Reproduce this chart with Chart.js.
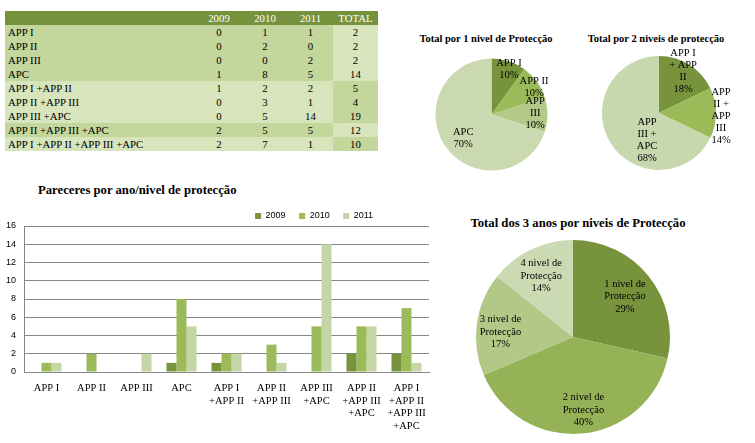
<!DOCTYPE html>
<html>

<head>
    <script src="https://cdn.jsdelivr.net/npm/chart.js"></script>
    <style>
        html,
        body {
            margin: 0px;
            width: 755px;
            height: 443px;
            overflow: hidden;
            background: #fff;
            font-family: "Liberation Serif", serif;
        }

        canvas {
            position: absolute;
            left: 0px;
            top: 0px;
        }

        .title {
            position: absolute;
            font: bold 10.5px "Liberation Serif", serif;
            color: #000;
            white-space: nowrap;
            transform: translate(-50%, -50%);
        }

        .title.big {
            font-size: 12.7px;
        }

        .title.left {
            transform: translate(0, -50%);
        }

        #tbl {
            position: absolute;
            left: 5px;
            top: 11px;
            width: 373px;
            border-collapse: collapse;
            table-layout: fixed;
            font: 10.8px "Liberation Serif", serif;
        }

        #tbl td {
            padding: 0px;
            height: 14px;
            line-height: 14px;
            text-align: center;
            color: #000;
            white-space: nowrap;
        }

        #tbl td.name {
            text-align: left;
            padding-left: 3px;
        }

        #tbl tr.head td {
            background: #76923C;
            color: #fff;
        }

        #tbl tr.a td { background: #C3D69B; }
        #tbl tr.a td.tot { background: #D7E4BC; }
        #tbl tr.b td { background: #D7E4BC; }
        #tbl tr.b td.tot { background: #C3D69B; }
    </style>
</head>

<body>
    <table id="tbl">
        <colgroup>
            <col style="width:191px">
            <col style="width:46px">
            <col style="width:46px">
            <col style="width:45px">
            <col style="width:45px">
        </colgroup>
        <tbody id="tblBody"></tbody>
    </table>

    <div class="title" style="left:486px; top:38px">Total por 1 nivel de Protecção</div>
    <div class="title" style="left:656px; top:38px">Total por 2 niveis de protecção</div>
    <div class="title big left" style="left:38px; top:190px">Pareceres por ano/nivel de protecção</div>
    <div class="title big" style="left:578px; top:223px">Total dos 3 anos por niveis de Protecção</div>

    <canvas id="barChart" width="755" height="443"></canvas>
    <canvas id="pie1" width="755" height="443"></canvas>
    <canvas id="pie2" width="755" height="443"></canvas>
    <canvas id="pie3" width="755" height="443"></canvas>

    <script>
        // table / bar chart data
        const categories = ['APP I', 'APP II', 'APP III', 'APC', 'APP I +APP II', 'APP II +APP III',
            'APP III +APC', 'APP II +APP III +APC', 'APP I +APP II +APP III +APC'];
        const years = ['2009', '2010', '2011'];
        const values2009 = [0, 0, 0, 1, 1, 0, 0, 2, 2];
        const values2010 = [1, 2, 0, 8, 2, 3, 5, 5, 7];
        const values2011 = [1, 0, 2, 5, 2, 1, 14, 5, 1];
        const totals = [2, 2, 2, 14, 5, 4, 19, 12, 10];

        // pies
        const pie1Labels = ['APP I', 'APP II', 'APP\nIII', 'APC'];
        const pie1Values = [2, 2, 2, 14];
        const pie2Labels = ['APP I\n+ APP\nII', 'APP\nII +\nAPP\nIII', 'APP\nIII +\nAPC'];
        const pie2Values = [5, 4, 19];
        const levelLabels = ['1 nivel de\nProtecção', '2 nivel de\nProtecção', '3 nivel de\nProtecção', '4 nivel de\nProtecção'];
        const levelValues = [20, 28, 12, 10];

        const yMin = 0, yMax = 16, yStep = 2;

        const dark = '#77933C';
        const mid = '#9BBB59';
        const light = '#C4D6A6';
        const serif = 'Liberation Serif';
        const sans = 'Liberation Sans';

        // table
        let rows = '<tr class="head"><td></td>' + years.map(y => '<td>' + y + '</td>').join('') + '<td>TOTAL</td></tr>';
        categories.forEach((c, i) => {
            const band = c.split('+').length % 2 ? 'a' : 'b';
            rows += '<tr class="' + band + '"><td class="name">' + c + '</td><td>' + values2009[i] + '</td><td>' +
                values2010[i] + '</td><td>' + values2011[i] + '</td><td class="tot">' + totals[i] + '</td></tr>';
        });
        document.getElementById('tblBody').innerHTML = rows;

        // labels inside the pie slices
        const sliceLabels = {
            id: 'sliceLabels',
            afterDatasetsDraw(chart, args, opts) {
                const ctx = chart.ctx;
                const meta = chart.getDatasetMeta(0);
                const data = chart.data.datasets[0].data;
                const sum = data.reduce((a, b) => a + b, 0);
                ctx.save();
                ctx.font = '10.5px "' + serif + '", serif';
                ctx.fillStyle = '#000';
                ctx.textAlign = 'center';
                ctx.textBaseline = 'middle';
                meta.data.forEach((arc, i) => {
                    const p = arc.getProps(['x', 'y', 'startAngle', 'endAngle', 'outerRadius'], true);
                    const f = opts.pos[i][0];
                    const a = (p.startAngle + p.endAngle) / 2 + opts.pos[i][1] * Math.PI / 180;
                    const cx = p.x + Math.cos(a) * p.outerRadius * f;
                    const cy = p.y + Math.sin(a) * p.outerRadius * f;
                    const lines = chart.data.labels[i].split('\n').concat(Math.round(data[i] / sum * 100) + '%');
                    lines.forEach((t, k) => ctx.fillText(t, cx, cy + (k - (lines.length - 1) / 2) * opts.lineHeight));
                });
                ctx.restore();
            }
        };

        function pieChart(id, labels, values, colors, pad, pos, lineHeight) {
            return new Chart(document.getElementById(id), {
                type: 'pie',
                data: {
                    labels: labels,
                    datasets: [{ data: values, backgroundColor: colors, borderWidth: 0, hoverOffset: 0 }]
                },
                options: {
                    responsive: false,
                    animation: false,
                    events: [],
                    layout: { padding: pad },
                    plugins: {
                        legend: { display: false },
                        tooltip: { enabled: false },
                        sliceLabels: { pos: pos, lineHeight: lineHeight }
                    }
                },
                plugins: [sliceLabels]
            });
        }

        pieChart('pie1', pie1Labels, pie1Values, [dark, mid, '#B2C987', '#CBD9B1'],
            { left: 435.5, top: 58.5, right: 207.5, bottom: 272.5 },
            [[0.87, 3], [0.9, 3.6], [0.78, -2], [0.66, -4]], 12);

        pieChart('pie2', pie2Labels, pie2Values, [dark, mid, '#C7D7AE'],
            { left: 602, top: 56, right: 39, bottom: 273 },
            [[0.84, -2], [1.09, 3], [0.52, -34]], 12);

        pieChart('pie3', levelLabels, levelValues, [dark, '#95B356', '#B1C886', '#CCDAB3'],
            { left: 476, top: 240, right: 85, bottom: 9 },
            [[0.68, 0.6], [0.76, -3], [0.75, -3.7], [0.71, -1.8]], 12.5);

        // legend: shorter box and pulled in from the right
        const legendTweak = {
            id: 'legendTweak',
            beforeLayout(chart) {
                const legend = chart.legend;
                if (!legend || legend._tweaked) return;
                const fit = legend.fit;
                legend.fit = function () {
                    fit.call(this);
                    this.height -= 4.5;
                };
                legend._tweaked = true;
            },
            afterLayout(chart) {
                chart.legend.right = 373 + 13.5;
            }
        };

        const barLabels = categories.map(c => c.split(' +').map((s, k) => k ? '+' + s : s));

        new Chart(document.getElementById('barChart'), {
            type: 'bar',
            data: {
                labels: barLabels,
                datasets: [
                    { label: years[0], data: values2009, backgroundColor: dark },
                    { label: years[1], data: values2010, backgroundColor: mid },
                    { label: years[2], data: values2011, backgroundColor: light }
                ]
            },
            options: {
                responsive: false,
                animation: false,
                events: [],
                layout: { padding: { left: 0, top: 198, right: 326, bottom: 0 } },
                datasets: { bar: { categoryPercentage: 0.668, barPercentage: 1 } },
                scales: {
                    x: {
                        grid: { display: false, drawTicks: false },
                        border: { color: '#868686' },
                        ticks: {
                            autoSkip: false,
                            maxRotation: 0,
                            padding: 10,
                            color: '#000',
                            font: { family: serif, size: 10.5, lineHeight: 1.2 }
                        },
                        afterFit(scale) { scale.height = 71; }
                    },
                    y: {
                        min: yMin,
                        max: yMax,
                        grid: { color: '#868686', drawTicks: false },
                        border: { color: '#868686' },
                        ticks: {
                            stepSize: yStep,
                            padding: 8,
                            color: '#000',
                            font: { family: sans, size: 9 }
                        },
                        afterFit(scale) { scale.width = 24; }
                    }
                },
                plugins: {
                    legend: {
                        align: 'end',
                        labels: {
                            boxWidth: 6,
                            boxHeight: 6,
                            padding: 13.5,
                            color: '#000',
                            font: { family: sans, size: 9 }
                        }
                    },
                    tooltip: { enabled: false }
                }
            },
            plugins: [legendTweak]
        });
    </script>
</body>

</html>
